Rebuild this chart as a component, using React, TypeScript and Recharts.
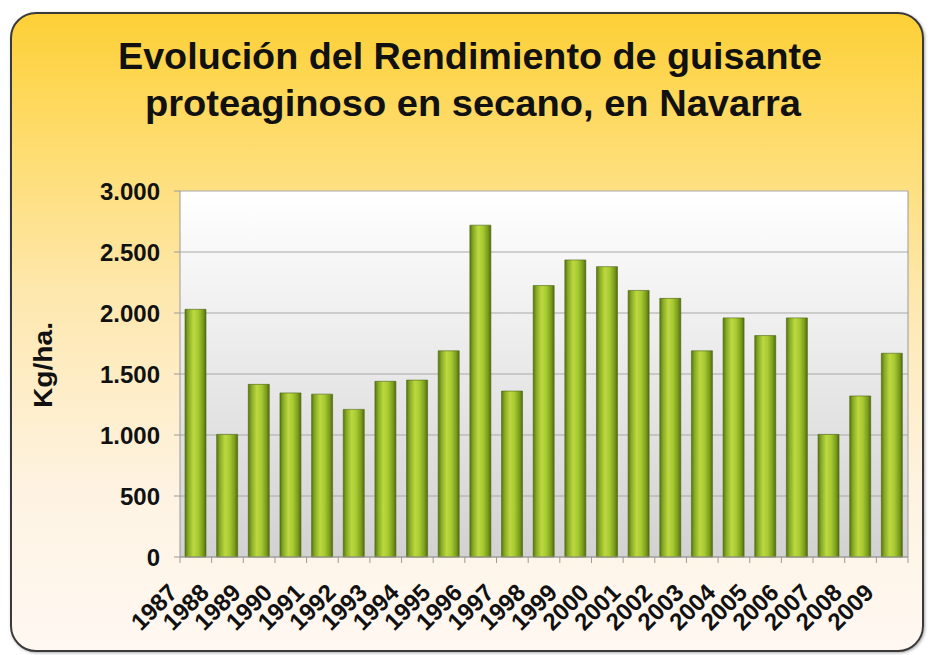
import { BarChart, Bar, XAxis, YAxis, CartesianGrid } from "recharts";

const years = [
    "1987", "1988", "1989", "1990", "1991", "1992", "1993", "1994", "1995", "1996", "1997", "1998",
    "1999", "2000", "2001", "2002", "2003", "2004", "2005", "2006", "2007", "2008", "2009",
];
const rendimiento = [
    2030, 1005, 1415, 1345, 1335, 1210, 1440, 1450, 1690, 2720, 1360, 2225,
    2435, 2380, 2185, 2120, 1690, 1960, 1815, 1960, 1005, 1320, 1670,
];
const yTicks = [0, 500, 1000, 1500, 2000, 2500, 3000];
const titleLines = ["Evolución del Rendimiento de guisante", "proteaginoso en secano, en Navarra"];
const yLabel = "Kg/ha.";

const data = years.map((y, i) => ({ year: y, kg: rendimiento[i] }));

const FONT = '"Liberation Sans", Arial, sans-serif';
const W = 931;
const H = 655;
const PLOT_LEFT = 180;
const PLOT_RIGHT = 908;
const BAND = (PLOT_RIGHT - PLOT_LEFT) / years.length;

function fmt(v: number) {
    return v === 0 ? "0" : v.toLocaleString("de-DE", { useGrouping: "always" } as any);
}

function YearTick(props: any) {
    const { x, y, payload, index } = props;
    const left = x - BAND / 2;
    const tx = x - 17;
    const ty = y + 37;
    return (
        <g>
            <line x1={left} x2={left} y1={y} y2={y + 6} stroke="#9a9a9a" />
            {index === years.length - 1 && (
                <line x1={x + BAND / 2} x2={x + BAND / 2} y1={y} y2={y + 6} stroke="#9a9a9a" />
            )}
            <text
                x={tx}
                y={ty}
                transform={`rotate(-45, ${tx}, ${ty})`}
                textAnchor="end"
                fontFamily={FONT}
                fontWeight="bold"
                fontSize={24}
                fill="#111"
            >
                {payload.value}
            </text>
        </g>
    );
}

export default function App() {
    return (
        <div style={{ position: "absolute", left: 0, top: 0, width: W, height: H, background: "#fff", overflow: "hidden" }}>
            <div
                style={{
                    position: "absolute",
                    left: 10,
                    top: 12,
                    width: 914,
                    height: 640,
                    boxSizing: "border-box",
                    borderRadius: 26,
                    border: "2px solid #3a3a3a",
                    background: "linear-gradient(to bottom, #fdd036 0%, #fedb68 18%, #fee8b0 45%, #fef3e2 75%, #fff8f2 100%)",
                    boxShadow: "1px 1px 3px rgba(0,0,0,0.35)",
                }}
            />
            <div style={{ position: "absolute", left: 0, top: 0 }}>
                <BarChart width={W} height={H} data={data} margin={{ top: 191, right: 22, bottom: 18, left: 100 }}>
                    <defs>
                        <linearGradient id="plotBg" x1="0" y1="0" x2="0" y2="1">
                            <stop offset="0%" stopColor="#ffffff" />
                            <stop offset="100%" stopColor="#d2d2d2" />
                        </linearGradient>
                        <linearGradient id="barFill" x1="0" y1="0" x2="1" y2="0">
                            <stop offset="0%" stopColor="#5a7412" />
                            <stop offset="15%" stopColor="#86aa22" />
                            <stop offset="40%" stopColor="#bcd842" />
                            <stop offset="62%" stopColor="#a8ca30" />
                            <stop offset="85%" stopColor="#7c9e1e" />
                            <stop offset="100%" stopColor="#526c10" />
                        </linearGradient>
                    </defs>
                    <CartesianGrid
                        yAxisId="left"
                        vertical={false}
                        stroke="#a8a8a8"
                        fill="url(#plotBg)"
                        fillOpacity={1}
                    />
                    <XAxis
                        dataKey="year"
                        height={80}
                        interval={0}
                        tickSize={0}
                        tickMargin={0}
                        tickLine={false}
                        axisLine={{ stroke: "#9a9a9a" }}
                        tick={<YearTick />}
                    />
                    <YAxis
                        yAxisId="left"
                        width={80}
                        domain={[0, 3000]}
                        ticks={yTicks}
                        tickFormatter={fmt}
                        tickSize={6}
                        tickMargin={14}
                        axisLine={{ stroke: "#9a9a9a" }}
                        tickLine={{ stroke: "#9a9a9a" }}
                        tick={{ fontFamily: FONT, fontWeight: "bold", fontSize: 24, fill: "#111" }}
                    />
                    <YAxis
                        yAxisId="right"
                        orientation="right"
                        width={1}
                        domain={[0, 3000]}
                        tick={false}
                        tickLine={false}
                        axisLine={{ stroke: "#9a9a9a" }}
                    />
                    <Bar
                        yAxisId="left"
                        dataKey="kg"
                        barSize={21}
                        fill="url(#barFill)"
                        stroke="#4c6410"
                        strokeWidth={0.6}
                        isAnimationActive={false}
                    />
                </BarChart>
            </div>
            <svg width={W} height={H} style={{ position: "absolute", left: 0, top: 0, pointerEvents: "none" }}>
                <text
                    x={470}
                    y={69}
                    textAnchor="middle"
                    fontFamily={FONT}
                    fontWeight="bold"
                    fontSize={36}
                    fill="#111"
                    textLength={704}
                    lengthAdjust="spacingAndGlyphs"
                >
                    {titleLines[0]}
                </text>
                <text
                    x={473}
                    y={116}
                    textAnchor="middle"
                    fontFamily={FONT}
                    fontWeight="bold"
                    fontSize={36}
                    fill="#111"
                    textLength={656}
                    lengthAdjust="spacingAndGlyphs"
                >
                    {titleLines[1]}
                </text>
                <text
                    x={52}
                    y={365}
                    transform="rotate(-90, 52, 365)"
                    textAnchor="middle"
                    fontFamily={FONT}
                    fontWeight="bold"
                    fontSize={26}
                    fill="#111"
                    textLength={86}
                    lengthAdjust="spacingAndGlyphs"
                >
                    {yLabel}
                </text>
            </svg>
        </div>
    );
}
